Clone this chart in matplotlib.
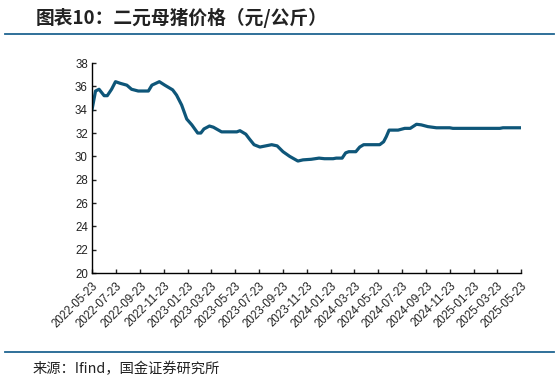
import matplotlib.pyplot as plt
import matplotlib.dates as mdates
import pandas as pd

plt.rcParams['font.family'] = ['Liberation Sans', 'Noto Sans CJK SC', 'DejaVu Sans']

# values (元/公斤)
dates = [
    '2022-05-23', '2022-06-01', '2022-06-10', '2022-06-23', '2022-07-01', '2022-07-12',
    '2022-07-22', '2022-08-03', '2022-08-20', '2022-09-01', '2022-09-18', '2022-10-14',
    '2022-10-23', '2022-11-11', '2022-11-25', '2022-12-15', '2022-12-25', '2023-01-07',
    '2023-01-20', '2023-02-02', '2023-02-17', '2023-02-25', '2023-03-05', '2023-03-19',
    '2023-03-29', '2023-04-19', '2023-05-28', '2023-06-05', '2023-06-20', '2023-06-29',
    '2023-07-11', '2023-07-26', '2023-08-25', '2023-09-08', '2023-09-23', '2023-10-10',
    '2023-10-31', '2023-11-13', '2023-12-04', '2023-12-24', '2024-01-07', '2024-01-29',
    '2024-02-06', '2024-02-21', '2024-03-01', '2024-03-09', '2024-03-27', '2024-04-06',
    '2024-04-16', '2024-05-27', '2024-06-06', '2024-06-13', '2024-06-20', '2024-07-13',
    '2024-07-30', '2024-08-13', '2024-08-29', '2024-09-10', '2024-09-27', '2024-10-19',
    '2024-11-22', '2024-11-30', '2025-03-30', '2025-04-07', '2025-05-23',
]
prices = [
    34.0, 35.6, 35.75, 35.2, 35.2, 35.75,
    36.4, 36.26, 36.1, 35.75, 35.6, 35.6,
    36.1, 36.4, 36.1, 35.7, 35.25, 34.4,
    33.2, 32.7, 32.0, 32.0, 32.35, 32.6,
    32.5, 32.1, 32.1, 32.2, 31.9, 31.5,
    31.0, 30.8, 31.0, 30.9, 30.4, 30.0,
    29.6, 29.7, 29.75, 29.85, 29.8, 29.8,
    29.85, 29.85, 30.3, 30.4, 30.4, 30.8,
    31.0, 31.0, 31.25, 31.7, 32.25, 32.25,
    32.4, 32.4, 32.75, 32.7, 32.55, 32.45,
    32.45, 32.4, 32.4, 32.45, 32.45,
]
tick_dates = pd.date_range('2022-05-01', '2025-05-01', freq='2MS') + pd.Timedelta(days=22)
y_ticks = list(range(20, 39, 2))

title = '图表10：二元母猪价格（元/公斤）'
source = '来源：Ifind，国金证券研究所'
line_color = '#0e5679'
rule_color = '#1f6591'

fig = plt.figure(figsize=(5.59, 3.83), dpi=100)
ax = fig.add_axes([0.1646, 0.287, 0.7674, 0.5485])

x = pd.to_datetime(dates)
ax.plot(x, prices, color=line_color, linewidth=2.3, solid_joinstyle='round')

ax.set_ylim(20, 38)
ax.set_yticks(y_ticks)
ax.set_xlim(pd.Timestamp('2022-05-23'), pd.Timestamp('2025-05-23'))
ax.set_xticks(tick_dates)
ax.xaxis.set_major_formatter(mdates.DateFormatter('%Y-%m-%d'))
plt.setp(ax.get_xticklabels(), rotation=45, ha='right', rotation_mode='anchor')

for side in ['top', 'right']:
    ax.spines[side].set_visible(False)
for side in ['left', 'bottom']:
    ax.spines[side].set_linewidth(1.0)
    ax.spines[side].set_color('black')
ax.tick_params(direction='in', length=3, width=1, labelsize=8.3, colors='#222222', pad=3)
ax.tick_params(axis='x', pad=5)

fig.text(0.063, 0.953, title, fontsize=13.5, fontweight='bold', color='#222222',
         va='center', ha='left', family=['Noto Sans CJK SC', 'DejaVu Sans'])
fig.add_artist(plt.Line2D([0.009, 0.991], [0.911, 0.911], color=rule_color, linewidth=1.3))
fig.add_artist(plt.Line2D([0.009, 0.991], [0.081, 0.081], color=rule_color, linewidth=1.3))
fig.text(0.059, 0.037, source, fontsize=10.3, color='#222222',
         va='center', ha='left', family=['Noto Sans CJK SC', 'DejaVu Sans'])

fig.savefig('out.png', dpi=100)
